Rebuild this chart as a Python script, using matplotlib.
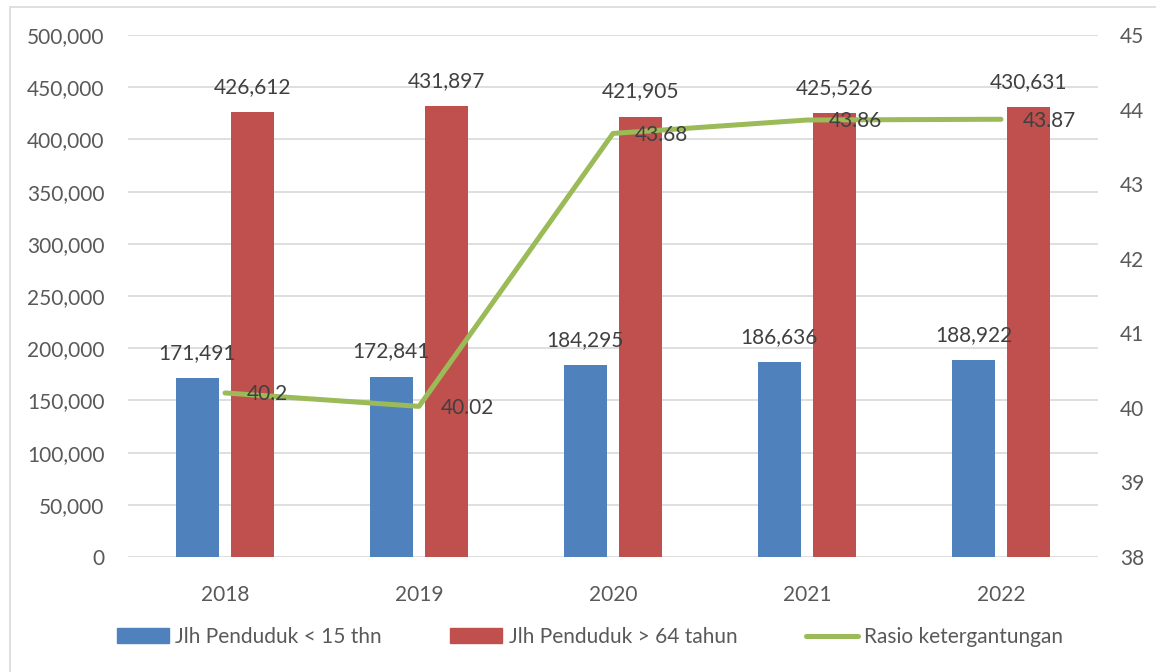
import matplotlib.pyplot as plt
import matplotlib.patches as mpatches
from matplotlib.lines import Line2D
from matplotlib.ticker import FuncFormatter
import numpy as np

tahun = ['2018', '2019', '2020', '2021', '2022']
penduduk_muda = [171491, 172841, 184295, 186636, 188922]
penduduk_tua = [426612, 431897, 421905, 425526, 430631]
rasio = [40.2, 40.02, 43.68, 43.86, 43.87]

biru = '#4F81BD'
merah = '#C0504D'
hijau = '#9BBB59'
abu = '#595959'
label_warna = '#404040'

plt.rcParams['font.family'] = ['Lato', 'DejaVu Sans']
plt.rcParams['font.size'] = 15

W, H = 1156, 672
fig = plt.figure(figsize=(W / 100, H / 100), dpi=100)

# bingkai grafik
bingkai = mpatches.Rectangle((10 / W, -0.1), 1.2, 1 - 7 / H + 0.1, transform=fig.transFigure,
                             fill=False, edgecolor='#D9D9D9', linewidth=1.2)
fig.patches.append(bingkai)

ax = fig.add_axes([128 / W, 115 / H, (1098 - 128) / W, (557 - 35) / H])
x = np.arange(len(tahun))
lebar = 0.222
geser = 0.142

ax.bar(x - geser, penduduk_muda, lebar, color=biru, zorder=2)
ax.bar(x + geser, penduduk_tua, lebar, color=merah, zorder=2)

for xi, v in zip(x, penduduk_muda):
    ax.annotate(f'{v:,}', (xi - geser, v), xytext=(0, 18), textcoords='offset points',
                ha='center', va='center', color=label_warna, zorder=5)
for xi, v in zip(x, penduduk_tua):
    ax.annotate(f'{v:,}', (xi + geser, v), xytext=(0, 18), textcoords='offset points',
                ha='center', va='center', color=label_warna, zorder=5)

ax.set_xlim(-0.5, len(tahun) - 0.5)
ax.set_ylim(0, 500000)
ax.set_yticks(np.arange(0, 500001, 50000))
ax.yaxis.set_major_formatter(FuncFormatter(lambda v, p: f'{int(v):,}'))
ax.set_xticks(x)
ax.set_xticklabels(tahun)
ax.grid(axis='y', color='#D9D9D9', linewidth=1.2, zorder=0)
ax.set_axisbelow(True)
for s in ax.spines.values():
    s.set_visible(False)
ax.tick_params(axis='both', length=0, colors=abu)
ax.tick_params(axis='y', pad=17)
ax.tick_params(axis='x', pad=20)

ax2 = ax.twinx()
ax2.plot(x, rasio, color=hijau, linewidth=3.6, solid_capstyle='round', zorder=3)
for xi, v in zip(x, rasio):
    ax2.annotate(f'{v:g}', (xi, v), xytext=(16, -1), textcoords='offset points',
                 ha='left', va='center', color=label_warna, zorder=5)
ax2.set_ylim(38, 45)
ax2.set_yticks(range(38, 46))
for s in ax2.spines.values():
    s.set_visible(False)
ax2.tick_params(axis='y', length=0, colors=abu, pad=16)

handles = [mpatches.Patch(color=biru), mpatches.Patch(color=merah),
           Line2D([0], [0], color=hijau, linewidth=3.6, solid_capstyle='round')]
labels = ['Jlh Penduduk < 15 thn', 'Jlh Penduduk > 64 tahun', 'Rasio ketergantungan']
fig.legend(handles, labels, loc='center', bbox_to_anchor=(590 / W, 1 - 637 / H), ncol=3,
           frameon=False, handlelength=2.5, handleheight=0.75, handletextpad=0.3,
           columnspacing=3.3, labelcolor=abu)

fig.savefig('out.png', dpi=100)
